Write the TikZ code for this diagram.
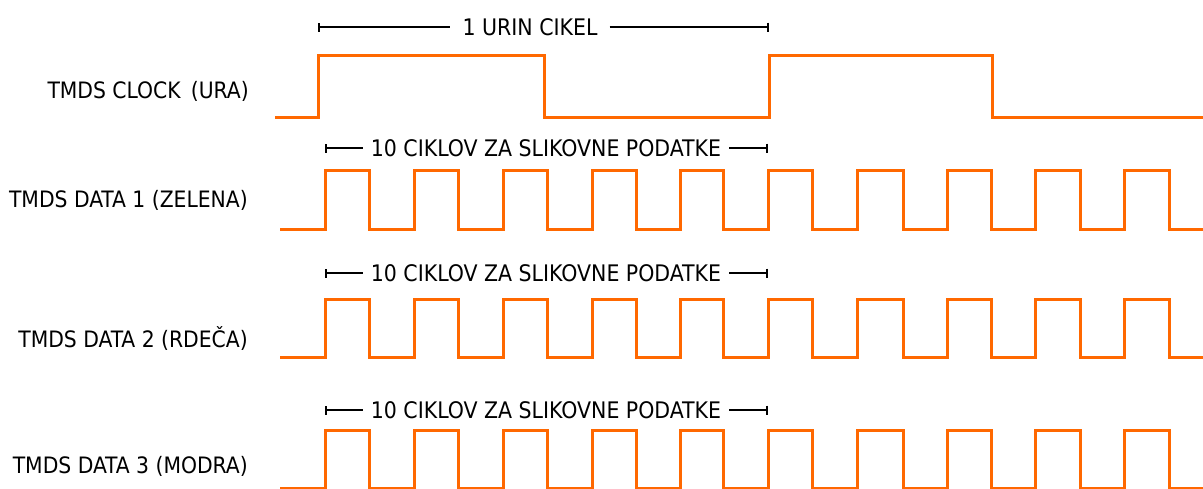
\documentclass[tikz,border=0pt]{standalone}
\usepackage{fontspec}
\setmainfont{DejaVu Sans Condensed}
\usetikzlibrary{arrows.meta}
\definecolor{wavec}{RGB}{255,104,0}
\tikzset{
  wave/.style={draw=wavec, line width=3pt, line join=miter},
  brk/.style={draw=black, line width=2.8pt},
  lbl/.style={font=\fontsize{22.6}{26}\selectfont, anchor=east, inner sep=0pt},
  btxt/.style={font=\fontsize{22.8}{26}\selectfont, inner ysep=0pt},
  endbar/.tip={Bar[width=9pt,line width=2.2pt]}
}
\begin{document}
\begin{tikzpicture}[x=1pt,y=-1pt]
\useasboundingbox (0,0) rectangle (1203,488);
% clock
\draw[wave] (275,117) -- (318,117) -- (318,55) -- (544,55) -- (544,117) -- (769,117) -- (769,55) -- (992,55) -- (992,117) -- (1203,117);
\node[lbl] (lclk) at (249,91) {TMDS CLOCK\hspace{0.45em}(URA)};
\coordinate (c1) at (318,27);
\coordinate (c2) at (769,27);
\node[btxt, inner xsep=12pt] (tclk) at (530,27) {1 URIN CIKEL};
\draw[brk,{endbar}-] (c1) -- (tclk.west);
\draw[brk,-{endbar}] (tclk.east) -- (c2);
% data rows
\foreach \lo/\hi/\by/\ly/\name/\lab in {229/170/148/200/d1/{TMDS DATA 1 (ZELENA)}, 357/299/273/338/d2/{TMDS DATA 2 (RDEČA)}, 488/430/410/466/d3/{TMDS DATA 3 (MODRA)}}{
  \draw[wave] (280,\lo) \foreach \r/\f in {325/369,414/458,503/547,592/636,680/723,768/812,857/903,947/991,1035/1080,1124/1169}{ -- (\r,\lo) -- (\r,\hi) -- (\f,\hi) -- (\f,\lo)} -- (1203,\lo);
  \node[lbl] (l\name) at (248,\ly) {\lab};
  \coordinate (\name a) at (325,\by);
  \coordinate (\name b) at (768,\by);
  \node[btxt, inner xsep=8pt] (t\name) at (546,\by) {10 CIKLOV ZA SLIKOVNE PODATKE};
  \draw[brk,{endbar}-] (\name a) -- (t\name.west);
  \draw[brk,-{endbar}] (t\name.east) -- (\name b);
}
\end{tikzpicture}
\end{document}
